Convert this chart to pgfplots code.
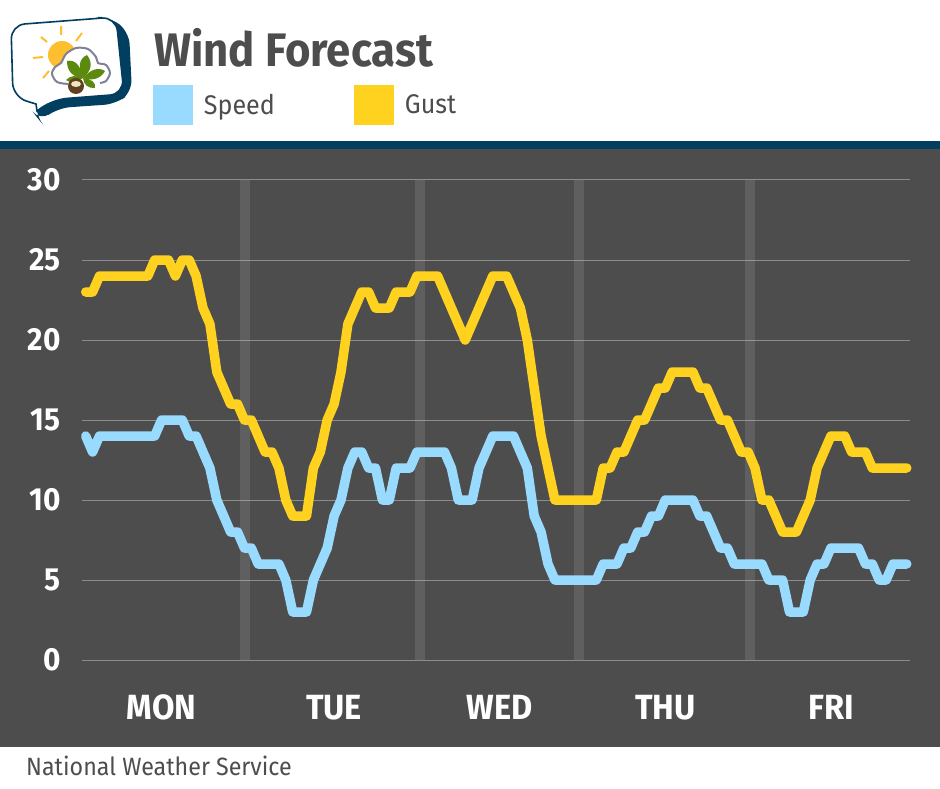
\documentclass[border=0pt]{standalone}
\usepackage{fontspec}
\setmainfont[FakeStretch=0.93]{Fira Sans}
\usepackage{pgfplots}
\usepackage{pgfplotstable}
\pgfplotsset{compat=1.18}
\definecolor{panel}{HTML}{4D4D4D}
\definecolor{navy}{HTML}{023E5F}
\definecolor{speedc}{HTML}{99DAFF}
\definecolor{gustc}{HTML}{FFD21F}
\definecolor{gridc}{HTML}{8C8C8C}
\definecolor{leafc}{HTML}{5C8A0E}
\definecolor{sunc}{HTML}{FDBF2D}
\definecolor{cloudc}{HTML}{7F8296}
\pgfplotstableread{
i gust speed
0 23 14
1 23 13
2 24 14
3 24 14
4 24 14
5 24 14
6 24 14
7 24 14
8 24 14
9 24 14
10 25 14
11 25 15
12 25 15
13 24 15
14 25 15
15 25 14
16 24 14
17 22 13
18 21 12
19 18 10
20 17 9
21 16 8
22 16 8
23 15 7
24 15 7
25 14 6
26 13 6
27 13 6
28 12 6
29 10 5
30 9 3
31 9 3
32 9 3
33 12 5
34 13 6
35 15 7
36 16 9
37 18 10
38 21 12
39 22 13
40 23 13
41 23 12
42 22 12
43 22 10
44 22 10
45 23 12
46 23 12
47 23 12
48 24 13
49 24 13
50 24 13
51 24 13
52 23 13
53 22 12
54 21 10
55 20 10
56 21 10
57 22 12
58 23 13
59 24 14
60 24 14
61 24 14
62 23 14
63 22 13
64 20 12
65 17 9
66 14 8
67 12 6
68 10 5
69 10 5
70 10 5
71 10 5
72 10 5
73 10 5
74 10 5
75 12 6
76 12 6
77 13 6
78 13 7
79 14 7
80 15 8
81 15 8
82 16 9
83 17 9
84 17 10
85 18 10
86 18 10
87 18 10
88 18 10
89 17 9
90 17 9
91 16 8
92 15 7
93 15 7
94 14 6
95 13 6
96 13 6
97 12 6
98 10 6
99 10 5
100 9 5
101 8 5
102 8 3
103 8 3
104 9 3
105 10 5
106 12 6
107 13 6
108 14 7
109 14 7
110 14 7
111 13 7
112 13 7
113 13 6
114 12 6
115 12 5
116 12 5
117 12 6
118 12 6
119 12 6
}\windtable
\pgfplotstableread{
x y
23.09 30
48.47 30
71.5 30
96.3 30
}\septable
\usetikzlibrary{calc}
\newcommand{\leaf}[3]{\fill[leafc] (83,78) .. controls ($(83,78)!0.4!(#1,#2)+(#3)$) and ($(83,78)!0.75!(#1,#2)+(#3)$) .. (#1,#2) .. controls ($(83,78)!0.75!(#1,#2)-(#3)$) and ($(83,78)!0.4!(#1,#2)-(#3)$) .. (83,78);}
\begin{document}
\begin{tikzpicture}[x=1pt,y=1pt]
\path[use as bounding box,fill=white] (0,0) rectangle (940,788);
\fill[panel] (0,41) rectangle (940,639);
\fill[navy] (0,639) rectangle (940,647);
% logo
\begin{scope}[shift={(0,788)},yscale=-1]
\fill[navy,rounded corners=12pt] (90,17) -- (110,17) -- (129,32) -- (132,92) -- (116,104) -- (58,108) -- (40,121) -- (36,116) -- (36,80) -- cycle;
\draw[navy,fill=white,line width=1.6pt,rounded corners=14pt] (11,25) -- (116,17) -- (124,94) -- (53,99.5) [sharp corners] -- (37,111) -- (36,104) [rounded corners=14pt] -- (13,97) -- cycle;
\fill[sunc] (62,55) circle (14);
\draw[sunc,line width=2pt] (61,26)--(61,35) (41,37)--(47,42) (82,33)--(76,41) (33,58)--(43,57) (43,78)--(49,71);
\draw[cloudc,line width=2pt,fill=white] plot[smooth] coordinates {(68,84)(57,82)(52,74)(55,67)(61,63)(66,54)(76,48)(88,49)(96,57)(98,63)(106,65)(110,73)(106,81)(100,83)};
\leaf{87}{55}{7,2}
\leaf{67}{61}{4,-6}
\leaf{105}{71}{1,6}
\leaf{66}{80}{0,4}
\leaf{95}{88}{4,-3}
\fill[black!50!brown] (76,86) circle (8);
\fill[yellow!30!brown!30!white] (76,84) ellipse (5 and 3);
\end{scope}
% title
\node[anchor=base west,inner sep=0pt,text=panel] at (154,721) {\fontsize{47}{50}\selectfont\bfseries Wind Forecast};
\node[anchor=base west,inner sep=0pt,text=panel] at (26,13) {\fontsize{25}{28}\selectfont National Weather Service};
\begin{axis}[
  at={(82pt,128pt)},anchor=south west,
  scale only axis,width=828pt,height=480pt,
  xmin=-0.536,xmax=119.464,ymin=0,ymax=30,
  axis line style={draw=none},
  clip=false,
  ytick={0,5,...,30},
  xtick={11,36,60,84,108},
  xticklabels={MON,TUE,WED,THU,FRI},
  major tick length=0pt,
  ymajorgrids,
  major grid style={gridc,line width=1pt},
  /pgf/number format/assume math mode=true,
  ticklabel style={text=white,font=\fontsize{35}{38}\selectfont\bfseries},
  yticklabel style={font=\fontsize{32}{35}\selectfont\bfseries,xshift=-18pt,anchor=east},
  xticklabel style={yshift=-31.5pt,anchor=north},
  legend style={at={(0.0857,1.156)},anchor=west,draw=none,fill=none,inner sep=0pt,outer sep=0pt,
    legend columns=2,text=panel,
    font=\fontsize{27}{30}\selectfont,
    nodes={inner sep=0pt,outer sep=0pt},
    /tikz/column 1/.style={column sep=11pt},
    /tikz/column 2/.style={column sep=79pt},
    /tikz/column 3/.style={column sep=11pt}},
  legend cell align=left,
  legend image code/.code={\fill[#1,draw=none,fill=.] (0pt,-20pt) rectangle (40pt,20pt);},
]
\addplot[forget plot,ycomb,white,opacity=0.1,line width=10pt,mark=none] table[x=x,y=y] {\septable};
\addplot[speedc,line width=9.5pt,line join=round,line cap=round,mark=none] table[x=i,y=speed] {\windtable};
\addlegendentry{Speed}
\addplot[gustc,line width=9.5pt,line join=round,line cap=round,mark=none] table[x=i,y=gust] {\windtable};
\addlegendentry{Gust}
\end{axis}
\end{tikzpicture}
\end{document}
